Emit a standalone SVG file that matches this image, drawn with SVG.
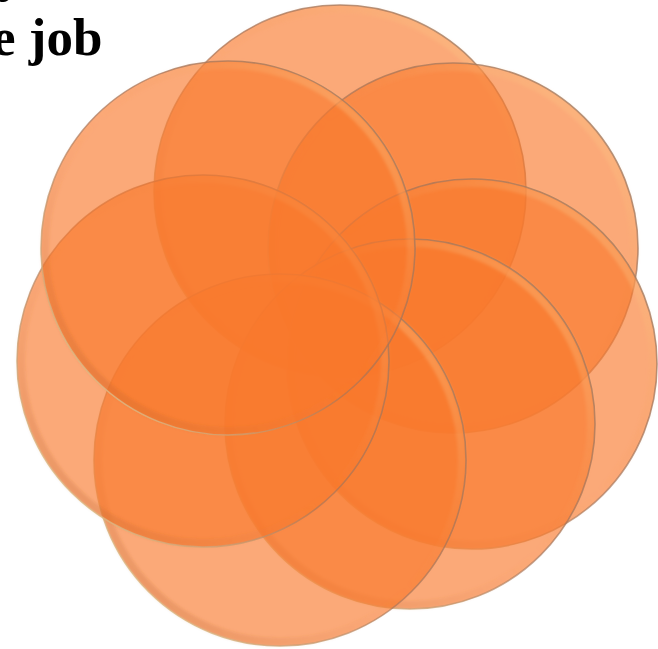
<svg xmlns="http://www.w3.org/2000/svg" width="658" height="649" viewBox="0 0 658 649">
<style>
.t{font-family:"Liberation Serif","Times New Roman",serif;font-weight:bold;font-size:53px;fill:#000}
.disc{fill:#F8782C;fill-opacity:0.64;stroke:url(#edge);stroke-width:1.6}
.rim{fill:none;stroke:url(#rimg);stroke-width:8;filter:url(#soft)}
</style>
<defs>
<linearGradient id="edge" x1="0" y1="1" x2="1" y2="0">
<stop offset="0" stop-color="#FFE7A8" stop-opacity="0.95"/>
<stop offset="0.45" stop-color="#A8765A" stop-opacity="0.65"/>
<stop offset="1" stop-color="#8C6A58" stop-opacity="0.85"/>
</linearGradient>
<linearGradient id="rimg" x1="0" y1="1" x2="1" y2="0">
<stop offset="0" stop-color="#9A4A20" stop-opacity="0.3"/>
<stop offset="0.5" stop-color="#F08040" stop-opacity="0"/>
<stop offset="1" stop-color="#FFE0A0" stop-opacity="0.5"/>
</linearGradient>
<filter id="soft" x="-5%" y="-5%" width="110%" height="110%"><feGaussianBlur stdDeviation="1.5"/></filter>
</defs>
<rect width="658" height="649" fill="#fff"/>
<text class="t" x="-2" y="-9">y</text>
<text class="t" x="-8" y="55">e job</text>
<g id="disc1"><circle class="disc" cx="340" cy="191" r="186"/><circle class="rim" cx="340" cy="191" r="182"/></g>
<g id="disc2"><circle class="disc" cx="453" cy="248" r="185"/><circle class="rim" cx="453" cy="248" r="181"/></g>
<g id="disc3"><circle class="disc" cx="472" cy="364" r="185"/><circle class="rim" cx="472" cy="364" r="181"/></g>
<g id="disc4"><circle class="disc" cx="410" cy="424" r="185"/><circle class="rim" cx="410" cy="424" r="181"/></g>
<g id="disc5"><circle class="disc" cx="280" cy="460" r="186"/><circle class="rim" cx="280" cy="460" r="182"/></g>
<g id="disc6"><circle class="disc" cx="203" cy="361" r="186"/><circle class="rim" cx="203" cy="361" r="182"/></g>
<g id="disc7"><circle class="disc" cx="228" cy="248" r="187"/><circle class="rim" cx="228" cy="248" r="183"/></g>
</svg>
